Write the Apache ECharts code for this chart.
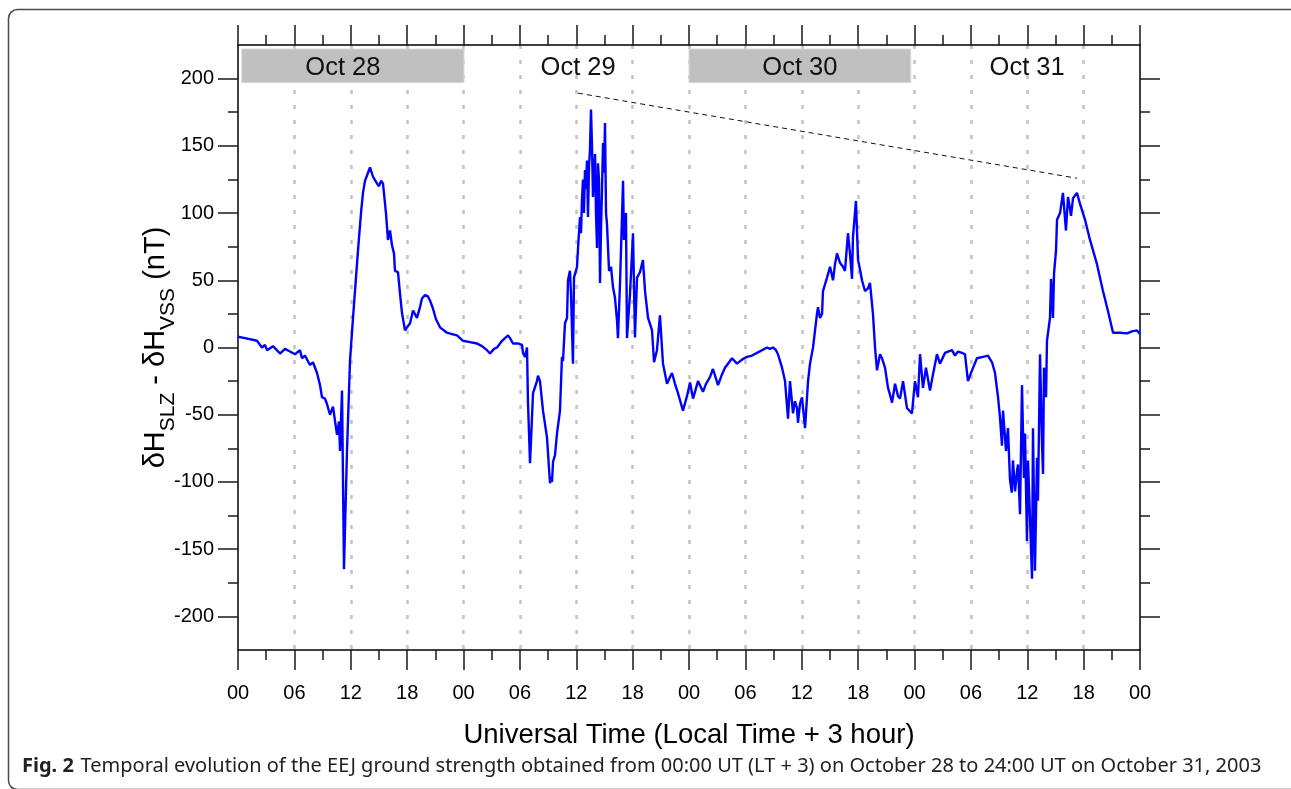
<!DOCTYPE html>
<html>
<head>
<meta charset="utf-8">
<script src="https://cdn.jsdelivr.net/npm/echarts@6/dist/echarts.min.js"></script>
<style>
  html, body { margin: 0; padding: 0; background: #fff; }
  #chart { width: 1291px; height: 789px; }
</style>
</head>
<body>
<div id="chart"></div>
<script>
// Hours since 00:00 UT on October 28, 2003
const utHours = [
  0.00, 0.75, 2.02, 2.55, 2.87, 3.09, 3.73, 4.47, 5.00, 5.53, 6.07, 6.60, 6.81, 7.13, 7.66, 7.98,
  8.41, 8.73, 8.94, 9.26, 9.47, 9.79, 10.11, 10.32, 10.54, 10.75, 10.86, 11.07, 11.28, 11.60, 11.92,
  12.24, 12.77, 13.09, 13.30, 13.52, 13.84, 14.05, 14.37, 14.58, 14.79, 15.01, 15.22, 15.43, 15.75,
  15.96, 16.18, 16.39, 16.60, 16.71, 17.03, 17.24, 17.45, 17.77, 18.09, 18.31, 18.63, 19.05, 19.37,
  19.58, 19.90, 20.22, 20.43, 20.75, 21.07, 21.50, 22.24, 22.78, 23.31, 23.95, 24.69, 25.44, 25.97,
  26.50, 26.82, 27.25, 27.57, 28.10, 28.42, 28.74, 28.95, 29.27, 29.80, 30.23, 30.33, 30.55, 30.76,
  30.86, 31.08, 31.29, 31.40, 31.82, 31.93, 32.14, 32.46, 32.89, 33.10, 33.21, 33.31, 33.42, 33.53,
  33.74, 33.95, 34.27, 34.48, 34.59, 34.80, 35.02, 35.12, 35.33, 35.44, 35.65, 35.76, 36.08, 36.19,
  36.40, 36.51, 36.61, 36.72, 36.82, 36.93, 37.04, 37.14, 37.25, 37.36, 37.46, 37.57, 37.68, 37.78,
  37.89, 38.00, 38.10, 38.21, 38.31, 38.42, 38.53, 38.64, 38.74, 38.85, 38.96, 39.06, 39.17, 39.27,
  39.49, 39.70, 39.91, 40.12, 40.34, 40.44, 40.66, 40.98,
  41.08, 41.29, 41.40, 41.72, 42.04, 42.25, 42.47, 42.78, 43.10, 43.32, 43.64, 44.06, 44.28, 44.59,
  44.91, 45.23, 45.66, 45.98, 46.19, 46.51, 46.83, 47.04, 47.36, 47.79, 48.11, 48.43, 48.96, 49.49,
  49.81, 50.23, 50.55, 51.09, 51.51, 51.83, 52.58, 53.11, 53.64, 54.17, 54.71, 55.24, 55.77, 56.30,
  56.62, 56.94, 57.26, 57.47, 57.90, 58.22, 58.54, 58.75, 59.07, 59.28, 59.49, 59.60, 59.81, 60.03,
  60.35, 60.67, 60.88, 61.20, 61.62, 61.73, 61.94, 62.16, 62.26, 62.69, 63.01, 63.33, 63.54, 63.75,
  64.07, 64.39, 64.60, 64.92, 65.13, 65.35, 65.45, 65.77, 65.99, 66.20, 66.41, 66.73, 67.05, 67.26,
  67.58, 67.80, 68.01, 68.33, 68.54, 68.86, 69.18, 69.39, 69.61, 69.93, 70.24, 70.46, 70.78, 71.20,
  71.73, 72.05, 72.37, 72.59, 72.90, 73.22, 73.65, 73.97, 74.39, 74.71, 75.25, 75.57, 75.99, 76.31,
  76.63, 77.06, 77.37, 77.69, 78.12, 78.65, 79.29, 79.82, 80.25, 80.57, 80.89, 81.10, 81.31, 81.42,
  81.74, 81.95, 82.16, 82.35, 82.48, 82.70, 82.91, 83.02, 83.23, 83.44, 83.65, 83.76, 83.97, 84.08, 84.29, 84.51,
  84.61, 84.82, 85.04, 85.14, 85.36, 85.57, 85.68, 85.78, 86.00, 86.10, 86.42, 86.53, 86.74, 86.85,
  87.06, 87.17, 87.49, 87.80, 88.12, 88.34, 88.66, 88.87, 89.29, 89.61, 90.15, 90.68, 91.42, 92.06,
  92.60, 93.13, 93.87, 94.62, 95.15, 95.68, 96.00
];

// δH(SLZ) - δH(VSS), nT
const deltaH = [
  8, 7, 5, 0, 2, -2, 1, -4.5, -1, -3, -5, -2, -8, -6, -13, -11,
  -19, -28, -37, -38, -42, -50, -44, -45, -65, -55, -77, -32, -165, -77, -10,
  22, 72, 100, 115, 124, 130, 134, 127, 128, 122, 120, 124, 122, 100,
  80, 87, 76, 70, 57, 56, 40, 26, 12.7, 16, 18, 27.5, 22, 30,
  36.5, 39, 38, 35, 29, 21, 15, 11, 10, 9, 5, 4, 3, 1,
  -2, -4.5, -1, 0, 5, 7, 9, 7, 3, 3, 2, -4, -7, 0,
  -40, -86, -52, -34, -25, -21, -25, -47, -67, -90, -101, -96, -100, -85,
  -80, -64, -47, -7, -10, 18, 22, 50, 57, 40, -12, 52, 60, 74,
  97, 85, 110, 125, 100, 132, 118, 139, 97, 135, 147, 177, 149, 112,
  130, 144, 100, 74, 137, 125, 48, 90, 117, 152, 130, 167, 100, 92,
  57, 60, 45, 37, 20, 7, 48, 124,
  80, 100, 7, 40, 85, 7.5, 52, 56, 65, 42, 22, 13, -11, -2,
  24, -12, -27, -22, -19, -27, -34, -34, -47, -36, -26, -38, -25, -33,
  -27, -22, -16, -28, -20, -15, -8, -12, -9, -7, -6, -4, -2, 0,
  -1, 0, -2, -5, -15, -25, -53, -25, -49, -40, -45, -56, -42, -37,
  -60, -25, -12, 0, 25, 30, 22, 25, 42, 52, 60, 50, 62, 70,
  63, 60, 57, 85, 70, 51, 82, 109, 65, 58, 50, 42, 44, 48,
  25, 0, -17, -5, -8, -15, -30, -35, -41, -27, -36, -38, -25, -45,
  -49, -25, -37, -5, -30, -15, -32, -20, -5, -12, -4, -3, -2, -6,
  -3, -4, -5, -25, -17, -8, -7, -6, -11, -19, -37, -52, -73, -47,
  -77, -60, -98, -108, -84, -107, -92, -87, -124, -28, -97, -64, -144, -84, -127, -172,
  -60, -166, -82, -114, -5, -72, -94, -15, -37, 5, 22, 51, 22, 55,
  72, 95, 100, 115, 87, 112, 98, 111, 115, 107, 95, 80, 62, 42,
  27, 11, 11, 10.5, 12, 12.7, 10
];

// Day bands along the top of the plot
const dayNames = ['Oct 28', 'Oct 29', 'Oct 30', 'Oct 31'];
const dayStart = [0.4, 24.4, 48.0, 72.4];
const dayEnd   = [24.05, 48.0, 71.6, 96.0];
const dayShaded = [true, false, true, false];
const dayLabelShift = [-10, 0, 0, -2];
const bandLow = 197, bandHigh = 222;

// Dashed reference line across the daily maxima
const trendStart = [36.19, 189.2];
const trendEnd = [89.29, 125.9];

// Axis ticks
const yMajorTicks = [-200, -150, -100, -50, 0, 50, 100, 150, 200];
const yMinorTicks = [-175, -125, -75, -25, 25, 75, 125, 175];
const hourLabels = ['00', '06', '12', '18'];

const FONT = '"Liberation Sans", Arial, sans-serif';
const CAPTION_FONT = '"Noto Sans", "Open Sans", sans-serif';
const tickColor = '#1a1a1a';

const chart = echarts.init(document.getElementById('chart'), null, { renderer: 'canvas' });

const bands = dayNames.map((name, i) => [
  {
    name: name,
    xAxis: dayStart[i],
    yAxis: bandLow,
    label: { offset: [dayLabelShift[i], 2] },
    itemStyle: dayShaded[i]
      ? { color: '#c0c0c0', borderColor: '#d9d9d9', borderWidth: 1 }
      : { color: 'rgba(0,0,0,0)', borderWidth: 0 }
  },
  { xAxis: dayEnd[i], yAxis: bandHigh }
]);

function xAxisDef(pos, withLabels) {
  return {
    type: 'value',
    position: pos,
    min: 0,
    max: 96,
    interval: 6,
    axisLine: { show: true, onZero: false, lineStyle: { color: '#000', width: 1.5 } },
    axisTick: { show: true, inside: false, length: 20, lineStyle: { color: tickColor, width: 1.5 } },
    minorTick: { show: true, splitNumber: 2, length: 10, lineStyle: { color: tickColor, width: 1.5 } },
    axisLabel: withLabels ? {
      show: true,
      margin: 33,
      fontSize: 20,
      fontFamily: FONT,
      color: '#000',
      formatter: v => hourLabels[(v % 24) / 6]
    } : { show: false },
    splitLine: withLabels ? {
      show: true,
      showMinLine: false,
      showMaxLine: false,
      lineStyle: { color: '#c2c2c2', width: 2.5, type: [4, 11] }
    } : { show: false },
    minorSplitLine: { show: false },
    name: withLabels ? 'Universal Time (Local Time + 3 hour)' : '',
    nameLocation: 'middle',
    nameGap: 71,
    nameMoveOverlap: false,
    nameTextStyle: { fontSize: 27.5, fontFamily: FONT, color: '#000' }
  };
}

function yAxisDef(pos, ticks, len, showLine, withLabels) {
  const def = {
    type: 'value',
    position: pos,
    min: -225,
    max: 225,
    offset: 0,
    axisLine: { show: showLine, onZero: false, lineStyle: { color: '#000', width: 1.5 } },
    axisTick: { show: true, inside: false, length: len, customValues: ticks, lineStyle: { color: tickColor, width: 1.5 } },
    axisLabel: withLabels ? {
      show: true, customValues: ticks, margin: 24, fontSize: 20, fontFamily: FONT, color: '#000'
    } : { show: false },
    splitLine: { show: false }
  };
  if (withLabels) {
    def.name = '{m|δH}{s|SLZ}{m| - δH}{s|VSS}{m| (nT)}';
    def.nameLocation = 'middle';
    def.nameGap = 68;
    def.nameMoveOverlap = false;
    def.nameRotate = 90;
    def.nameTextStyle = {
      fontFamily: FONT,
      color: '#000',
      rich: {
        m: { fontSize: 29, fontFamily: FONT, color: '#000', verticalAlign: 'bottom', lineHeight: 36 },
        s: { fontSize: 21, fontFamily: FONT, color: '#000', verticalAlign: 'bottom', lineHeight: 28, padding: [0, 0, -9, 0] }
      }
    };
  }
  return def;
}

const option = {
  backgroundColor: '#ffffff',
  animation: false,
  grid: { left: 238, top: 45, width: 902, height: 605, containLabel: false },
  xAxis: [xAxisDef('bottom', true), xAxisDef('top', false)],
  yAxis: [
    yAxisDef('left', yMajorTicks, 20, true, true),
    yAxisDef('left', yMinorTicks, 10, false, false),
    yAxisDef('right', yMajorTicks, 20, true, false),
    yAxisDef('right', yMinorTicks, 10, false, false)
  ],
  series: [{
    type: 'line',
    xAxisIndex: 0,
    yAxisIndex: 0,
    data: utHours.map((h, i) => [h, deltaH[i]]),
    showSymbol: false,
    symbol: 'none',
    lineStyle: { color: '#0000ff', width: 2.4 },
    z: 3,
    markArea: {
      silent: true,
      label: { show: true, position: 'inside', fontSize: 25.5, fontFamily: FONT, color: '#111' },
      data: bands
    },
    markLine: {
      silent: true,
      symbol: 'none',
      label: { show: false },
      lineStyle: { color: '#111', width: 1, type: [5, 4] },
      data: [[{ coord: trendStart }, { coord: trendEnd }]]
    }
  }],
  graphic: [
    {
      type: 'rect',
      shape: { x: 8.5, y: 9.5, width: 1292, height: 780, r: 9 },
      style: { fill: 'none', stroke: '#4a4a4a', lineWidth: 1.5 },
      silent: true
    },
    {
      type: 'text',
      left: 22,
      top: 756,
      style: {
        text: '{b|Fig. 2}  {n|Temporal evolution of the EEJ ground strength obtained from 00:00 UT (LT + 3) on October 28 to 24:00 UT on October 31, 2003}',
        rich: {
          b: { fontWeight: 'bold', fontSize: 20, fontFamily: CAPTION_FONT, fill: '#222' },
          n: { fontSize: 20, fontFamily: CAPTION_FONT, fill: '#222' }
        }
      },
      silent: true
    }
  ]
};

chart.setOption(option);
</script>
</body>
</html>
